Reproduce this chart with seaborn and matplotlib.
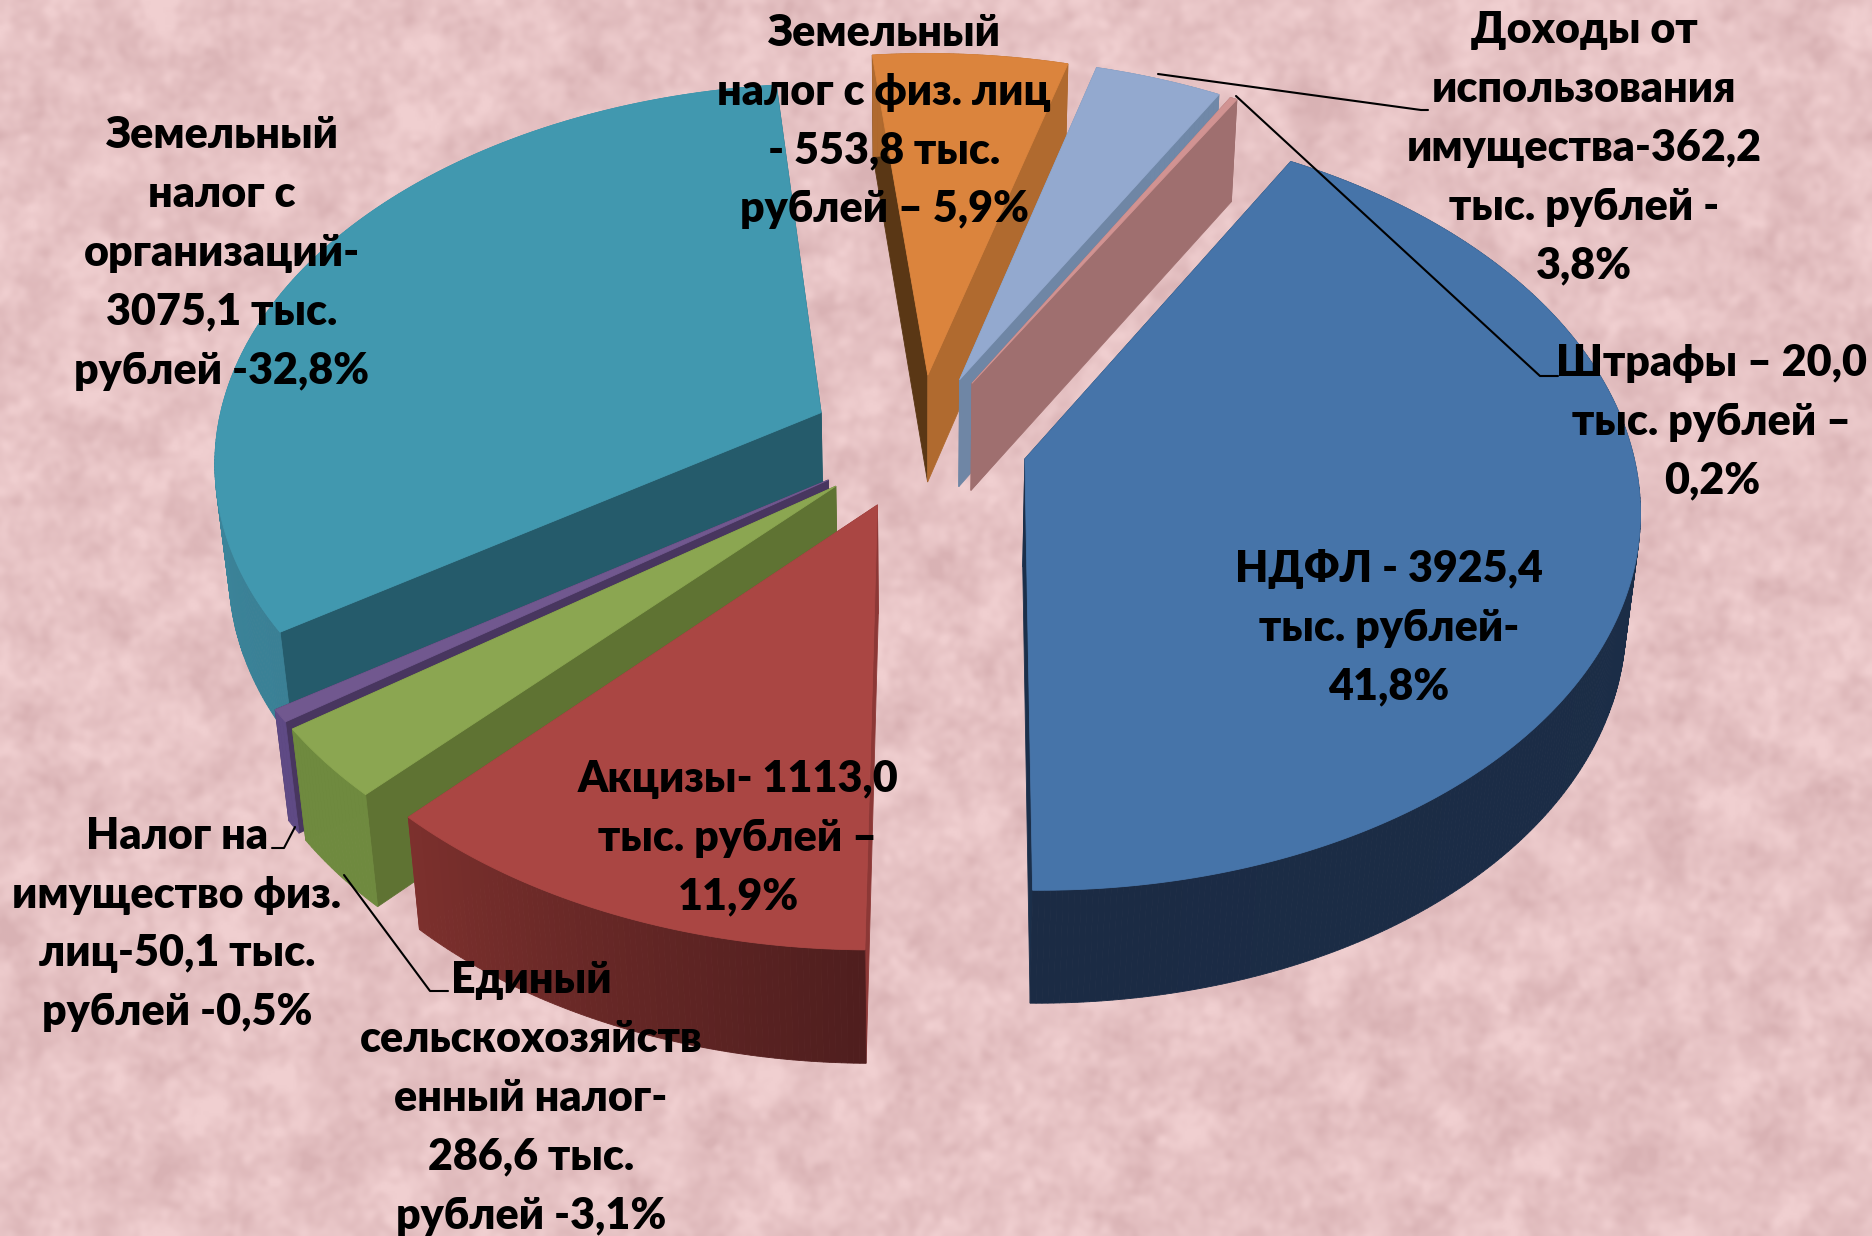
# Розподіл доходів бюджету: об'ємна розрізана кругова діаграма

import numpy as np
import matplotlib
matplotlib.use('Agg')
import matplotlib.pyplot as plt
from matplotlib.patches import Polygon
from matplotlib.colors import to_rgb
import seaborn as sns

# clockwise from the start angle
names = ['НДФЛ', 'Акцизы', 'Единый с/х налог', 'Налог на имущество физ. лиц',
         'Земельный налог с организаций', 'Земельный налог с физ. лиц',
         'Доходы от использования имущества', 'Штрафы']
values = [3925.4, 1113.0, 286.6, 50.1, 3075.1, 553.8, 362.2, 20.0]
labels = ['НДФЛ - 3925,4\nтыс. рублей-\n41,8%',
          'Акцизы- 1113,0\nтыс. рублей –\n11,9%',
          'Единый\nсельскохозяйств\nенный налог-\n286,6 тыс.\nрублей -3,1%',
          'Налог на\nимущество физ.\nлиц-50,1 тыс.\nрублей -0,5%',
          'Земельный\nналог с\nорганизаций-\n3075,1 тыс.\nрублей -32,8%',
          'Земельный\nналог с физ. лиц\n- 553,8 тыс.\nрублей – 5,9%',
          'Доходы от\nиспользования\nимущества-362,2\nтыс. рублей -\n3,8%',
          'Штрафы – 20,0\nтыс. рублей –\n0,2%']
label_x = [1389, 738, 531, 177, 222, 884, 1584, 1712]
label_y = [628, 838, 1098, 924, 253, 121, 148, 422]

top_colors = ['#4674a9', '#aa4643', '#8ba651', '#71588f', '#4198af', '#db843d', '#93a9cf', '#d19392']
wall_start = ['#1b2f4a', '#4f1e1e', '#6f8a3f', '#5f4a85', '#3a8095', '#b06a2f', '#7088a8', '#9f6f6f']
wall_end = ['#1b2b44', '#7c302d', '#6f8a3f', '#5f4a85', '#3f93ab', '#b06a2f', '#7088a8', '#9f6f6f']
cut_a = ['#1b2f4a', '#8c3836', '#5f7333', '#48365f', '#255b6b', '#5a3715', '#7088a8', '#9f6f6f']
cut_b = ['#1b2f4a', '#8c3836', '#5f7333', '#48365f', '#255b6b', '#b06a2f', '#6f86a5', '#9f6f6f']

sns.set_theme(style='white')
plt.rcParams['font.family'] = ['Lato', 'Noto Sans', 'DejaVu Sans']

START = 30.0
EXPLODE = 0.18
CX, CY = 919.0, 441.0
F, FS, DEPTH = 606.0, 375.0, 110.0
K, M = 0.12, 0.02


def project(x, y, z=0.0):
    w = 1 + K * y + M * z
    return CX + F * x / w, CY - (FS * y - DEPTH * z) / w


fig, ax = plt.subplots(figsize=(18.72, 12.36), dpi=100)
fig.subplots_adjust(0, 0, 1, 1)

# background paper texture
rng = np.random.default_rng(7)
h, w = 618, 936
noise = rng.normal(size=(h, w))
fy = np.fft.fftfreq(h)[:, None]
fx = np.fft.fftfreq(w)[None, :]
r2 = fx ** 2 + fy ** 2
soft = np.fft.ifft2(np.fft.fft2(noise) * np.exp(-r2 * 900)).real
fine = np.fft.ifft2(np.fft.fft2(noise) * np.exp(-r2 * 60)).real
tex = soft / soft.std() * 0.6 + fine / fine.std() * 0.6
light, dark = np.array(to_rgb('#f0cfd0')), np.array(to_rgb('#d9b2b4'))
t = np.clip(0.42 + tex * 0.18, 0, 1)[..., None]
ax.imshow(light * (1 - t) + dark * t, extent=(0, 1872, 1236, 0), aspect='auto',
          interpolation='bilinear', zorder=0)

palette = sns.color_palette(top_colors)
shares = np.array(values) / np.sum(values) * 360
ends = START + np.cumsum(shares)
starts = ends - shares
mids = (starts + ends) / 2

# back slices first
order = np.argsort(-np.cos(np.radians(mids)))
zo = 1
for i in order:
    mid = np.radians(mids[i])
    ox, oy = EXPLODE * np.sin(mid), EXPLODE * np.cos(mid)
    th = np.radians(np.linspace(starts[i], ends[i], max(int(shares[i] * 2), 4)))
    ax_, ay_ = ox + np.sin(th), oy + np.cos(th)

    def face(xs, ys, zs, color):
        global zo
        pts = [project(a, b, c) for a, b, c in zip(xs, ys, zs)]
        ax.add_patch(Polygon(pts, closed=True, fc=color, ec=color, lw=0.6, zorder=zo))
        zo += 1

    # cut faces
    face([ox, ax_[0], ax_[0], ox], [oy, ay_[0], ay_[0], oy], [0, 0, 1, 1], cut_a[i])
    face([ox, ax_[-1], ax_[-1], ox], [oy, ay_[-1], ay_[-1], oy], [0, 0, 1, 1], cut_b[i])
    # outer wall with a soft gradient
    c0, c1 = np.array(to_rgb(wall_start[i])), np.array(to_rgb(wall_end[i]))
    for j in range(len(th) - 1):
        f = j / max(len(th) - 2, 1)
        face([ax_[j], ax_[j + 1], ax_[j + 1], ax_[j]],
             [ay_[j], ay_[j + 1], ay_[j + 1], ay_[j]],
             [0, 0, 1, 1], tuple(c0 * (1 - f) + c1 * f))
    # top surface
    face(np.r_[ox, ax_], np.r_[oy, ay_], np.zeros(len(th) + 1), palette[i])

leaders = [([1158, 1421, 1428], [74, 110, 110]),
           ([1236, 1540, 1558], [96, 376, 376]),
           ([344, 430, 448], [875, 991, 991]),
           ([295, 284, 272], [827, 848, 848])]
for xs, ys in leaders:
    ax.plot(xs, ys, color='black', lw=1.5, zorder=zo)

for text, x, y in zip(labels, label_x, label_y):
    ax.text(x, y, text, ha='center', va='center', fontsize=31, fontweight='heavy',
            color='black', linespacing=1.57, zorder=zo + 1)

ax.set_xlim(0, 1872)
ax.set_ylim(1236, 0)
ax.axis('off')
fig.savefig('out.png', dpi=100)
